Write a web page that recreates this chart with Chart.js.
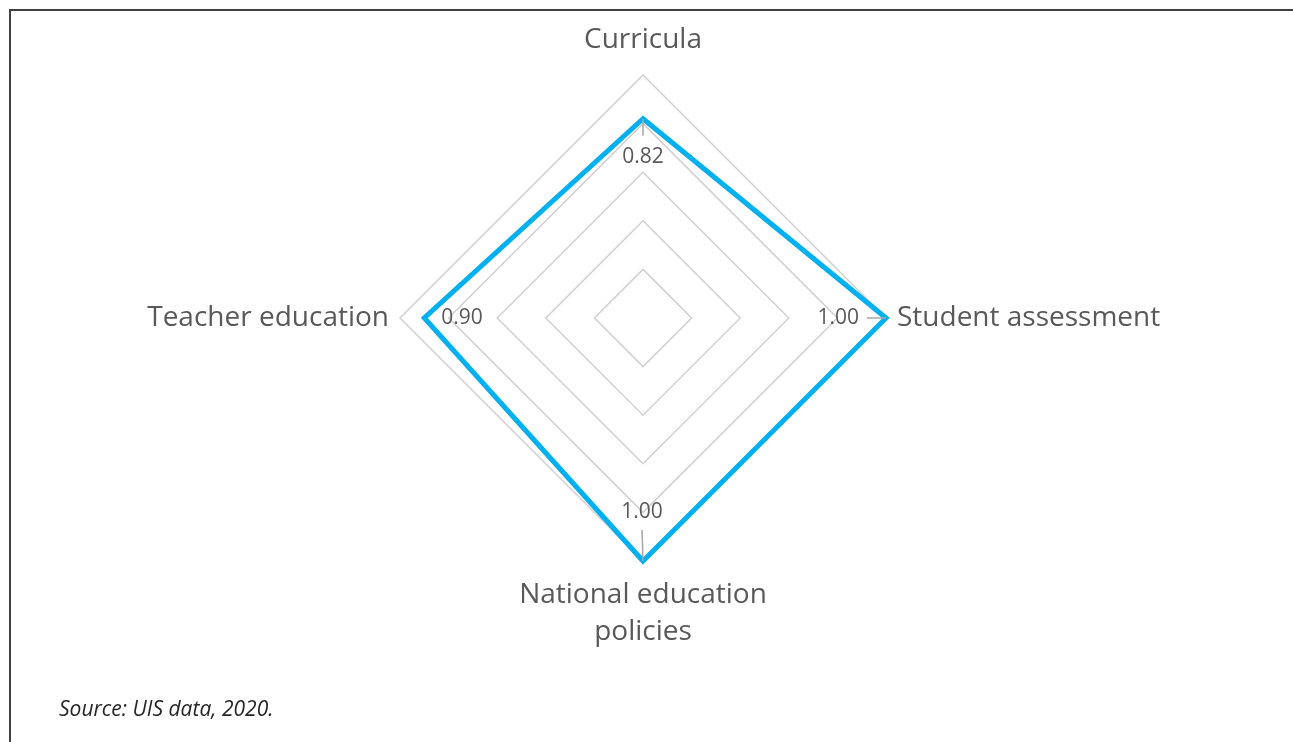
<!DOCTYPE html>
<html>
<head>
<meta charset="utf-8">
<script src="https://cdn.jsdelivr.net/npm/chart.js@4"></script>
<style>
  html, body { margin: 0; padding: 0; background: #fff; overflow: hidden; }
  #frame { position: absolute; left: 9px; top: 9px; width: 1400px; height: 800px; border: 2px solid #404040; box-sizing: border-box; }
  #wrap { position: absolute; left: 0; top: 0; width: 1293px; height: 742px; }
</style>
</head>
<body>
<div id="frame"></div>
<div id="wrap"><canvas id="radar" width="1293" height="742"></canvas></div>
<script>
const categorias = [["Curricula"], ["Student assessment"], ["National education", "policies"], ["Teacher education"]];
const valores = [0.82, 1.00, 1.00, 0.90];
const fuente = "Source: UIS data, 2020.";

// etiquetas de eje y de datos dibujadas a mano para controlar posiciones
const etiquetasPlugin = {
  id: "etiquetas",
  afterDatasetsDraw(chart) {
    const ctx = chart.ctx;
    const r = chart.scales.r;
    const max = r.max;
    ctx.save();
    ctx.fillStyle = "#595959";
    ctx.font = "28px 'Open Sans'";
    ctx.textBaseline = "middle";
    categorias.forEach((lab, i) => {
      const p = r.getPointPositionForValue(i, max);
      if (i === 0) {
        ctx.textAlign = "center";
        ctx.fillText(lab[0], p.x, p.y - 35);
      } else if (i === 1) {
        ctx.textAlign = "left";
        ctx.fillText(lab[0], p.x + 11, p.y);
      } else if (i === 2) {
        ctx.textAlign = "center";
        lab.forEach((l, k) => ctx.fillText(l, p.x, p.y + 34 + k * 37));
      } else {
        ctx.textAlign = "right";
        ctx.fillText(lab[0], p.x - 11, p.y);
      }
    });

    ctx.font = "21px 'Open Sans'";
    ctx.strokeStyle = "#a6a6a6";
    ctx.lineWidth = 1.5;
    valores.forEach((v, i) => {
      const p = r.getPointPositionForValue(i, v);
      const txt = v.toFixed(2);
      ctx.beginPath();
      if (i === 0) {
        ctx.moveTo(p.x, p.y); ctx.lineTo(p.x, p.y + 17); ctx.stroke();
        ctx.textAlign = "center";
        ctx.fillText(txt, p.x, p.y + 38);
      } else if (i === 1) {
        ctx.moveTo(p.x, p.y); ctx.lineTo(p.x - 19, p.y); ctx.stroke();
        ctx.textAlign = "right";
        ctx.fillText(txt, p.x - 27, p.y);
      } else if (i === 2) {
        ctx.moveTo(p.x, p.y); ctx.lineTo(p.x - 1, p.y - 31); ctx.stroke();
        ctx.textAlign = "center";
        ctx.fillText(txt, p.x - 1, p.y - 49);
      } else {
        ctx.textAlign = "left";
        ctx.fillText(txt, p.x + 17, p.y);
      }
    });

    ctx.font = "italic 21px 'Open Sans'";
    ctx.fillStyle = "#262626";
    ctx.textAlign = "left";
    ctx.textBaseline = "alphabetic";
    ctx.fillText(fuente, 59, 716);
    ctx.restore();
  }
};

const ctx = document.getElementById("radar").getContext("2d");
const grafico = new Chart(ctx, {
  type: "radar",
  data: {
    labels: categorias,
    datasets: [{
      data: valores,
      borderColor: "#00b0f0",
      borderWidth: 5,
      borderJoinStyle: "miter",
      pointRadius: 0,
      fill: false
    }]
  },
  options: {
    responsive: false,
    animation: false,
    layout: { padding: { left: 0, right: 6, top: 75, bottom: 181 } },
    plugins: { legend: { display: false }, tooltip: { enabled: false } },
    scales: {
      r: {
        min: 0,
        max: 1,
        ticks: { display: false, stepSize: 0.2 },
        pointLabels: { display: false },
        angleLines: { display: false },
        grid: { color: "#d0d0d0", lineWidth: 1.5 }
      }
    }
  },
  plugins: [etiquetasPlugin]
});
</script>
</body>
</html>
